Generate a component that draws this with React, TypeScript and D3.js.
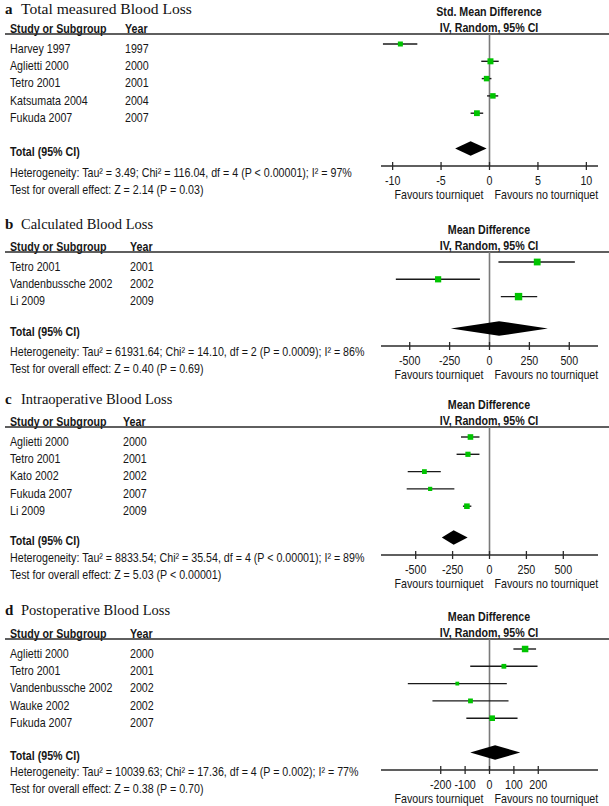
import React from "react";
import * as d3 from "d3";

// ---------- Panel a: Total measured Blood Loss (Std. Mean Difference) ----------
const aStudies = ["Harvey 1997", "Aglietti 2000", "Tetro 2001", "Katsumata 2004", "Fukuda 2007"];
const aYears = ["1997", "2000", "2001", "2004", "2007"];
const aEst = [-9.2, 0.1, -0.3, 0.35, -1.3];
const aLo = [-11.0, -0.85, -0.8, -0.25, -1.95];
const aHi = [-7.45, 0.95, 0.2, 0.9, -0.65];
const aWeight = [5, 6, 5.5, 5.5, 5.8];
const aTotal = [-3.55, -1.95, -0.3];
const aTicks = [-10, -5, 0, 5, 10];
const aHet = "Heterogeneity: Tau² = 3.49; Chi² = 116.04, df = 4 (P < 0.00001); I² = 97%";
const aTest = "Test for overall effect: Z = 2.14 (P = 0.03)";

// ---------- Panel b: Calculated Blood Loss ----------
const bStudies = ["Tetro 2001", "Vandenbussche 2002", "Li 2009"];
const bYears = ["2001", "2002", "2009"];
const bEst = [299, -322, 182];
const bLo = [56, -587, 71];
const bHi = [535, -60, 299];
const bWeight = [6.8, 6.2, 7.4];
const bTotal = [-242, 60, 366];
const bTicks = [-500, -250, 0, 250, 500];
const bHet = "Heterogeneity: Tau² = 61931.64; Chi² = 14.10, df = 2 (P = 0.0009); I² = 86%";
const bTest = "Test for overall effect: Z = 0.40 (P = 0.69)";

// ---------- Panel c: Intraoperative Blood Loss ----------
const cStudies = ["Aglietti 2000", "Tetro 2001", "Kato 2002", "Fukuda 2007", "Li 2009"];
const cYears = ["2000", "2001", "2002", "2007", "2009"];
const cEst = [-129, -146, -441, -402, -153];
const cLo = [-193, -223, -554, -561, -180];
const cHi = [-68, -68, -330, -238, -123];
const cWeight = [5.6, 5.2, 4.8, 4.2, 5.6];
const cTotal = [-323, -243, -148];
const cTicks = [-500, -250, 0, 250, 500];
const cHet = "Heterogeneity: Tau² = 8833.54; Chi² = 35.54, df = 4 (P < 0.00001); I² = 89%";
const cTest = "Test for overall effect: Z = 5.03 (P < 0.00001)";

// ---------- Panel d: Postoperative Blood Loss ----------
const dStudies = ["Aglietti 2000", "Tetro 2001", "Vandenbussche 2002", "Wauke 2002", "Fukuda 2007"];
const dYears = ["2000", "2001", "2002", "2002", "2007"];
const dEst = [146, 59, -132, -78, 11];
const dLo = [98, -79, -335, -234, -95];
const dHi = [191, 197, 71, 78, 115];
const dWeight = [6.5, 4.8, 3.8, 4.8, 5.6];
const dTotal = [-79, 23, 126];
const dTicks = [-200, -100, 0, 100, 200];
const dHet = "Heterogeneity: Tau² = 10039.63; Chi² = 17.36, df = 4 (P = 0.002); I² = 77%";
const dTest = "Test for overall effect: Z = 0.38 (P = 0.70)";

const panels = [
  { letter: "a", title: "Total measured Blood Loss", measure: "Std. Mean Difference", studies: aStudies, years: aYears, est: aEst, lo: aLo, hi: aHi, weight: aWeight, total: aTotal, ticks: aTicks, domain: [-11.2, 11.2], het: aHet, test: aTest },
  { letter: "b", title: "Calculated Blood Loss", measure: "Mean Difference", studies: bStudies, years: bYears, est: bEst, lo: bLo, hi: bHi, weight: bWeight, total: bTotal, ticks: bTicks, domain: [-680, 680], het: bHet, test: bTest },
  { letter: "c", title: "Intraoperative Blood Loss", measure: "Mean Difference", studies: cStudies, years: cYears, est: cEst, lo: cLo, hi: cHi, weight: cWeight, total: cTotal, ticks: cTicks, domain: [-735, 735], het: cHet, test: cTest },
  { letter: "d", title: "Postoperative Blood Loss", measure: "Mean Difference", studies: dStudies, years: dYears, est: dEst, lo: dLo, hi: dHi, weight: dWeight, total: dTotal, ticks: dTicks, domain: [-445, 445], het: dHet, test: dTest },
];

// layout (pixel positions) per panel
const layouts = [
  { H: 34, axisY: 166, hetY: 172.7, yearX: 125, titleY: 14, titleSize: 15.6 },
  { H: 252, axisY: 346, hetY: 352, yearX: 130, titleY: 229, titleSize: 14.5 },
  { H: 427, axisY: 555, hetY: 557.7, yearX: 123, titleY: 404, titleSize: 14.5 },
  { H: 639, axisY: 770, hetY: 772, yearX: 130, titleY: 615, titleSize: 14.5 },
];

const SANS = "'Liberation Sans', Arial, Helvetica, sans-serif";
const SERIF = "'Liberation Serif', 'Times New Roman', serif";
const SX = 0.89;
const TXT = "#161616";

function T({ x, y, anchor = "start", bold = false, size = 12, children }: any) {
  return (
    <text
      transform={`translate(${x},${y}) scale(${SX},1)`}
      textAnchor={anchor}
      fontFamily={SANS}
      fontSize={size}
      fontWeight={bold ? "bold" : "normal"}
      fill={TXT}
    >
      {children}
    </text>
  );
}

function Panel({ p, L }: any) {
  const x = d3.scaleLinear().domain(p.domain).range([381, 598]);
  const x0 = x(0);
  const rowY = d3
    .scaleLinear()
    .domain([0, 1])
    .range([L.H + 10, L.H + 10 + 17.3]);
  const diamondY = L.axisY - 17.5;
  const size = d3.scaleLinear().domain([0, 1]).range([0, 1]);
  const dh = 7.3;
  const [tl, tc, tr] = p.total;
  const diamond = d3.line()([
    [x(tl), diamondY],
    [x(tc), diamondY - dh],
    [x(tr), diamondY],
    [x(tc), diamondY + dh],
  ]) + "Z";
  return (
    <g>
      {/* title */}
      <text x={5} y={L.titleY} fontFamily={SERIF} fontSize={15} fontWeight="bold" fill="#111">
        {p.letter}
      </text>
      <text x={21} y={L.titleY} fontFamily={SERIF} fontSize={L.titleSize} fill="#111">
        {p.title}
      </text>
      {/* headers */}
      <T x={10} y={L.H - 1} bold>Study or Subgroup</T>
      <T x={L.yearX} y={L.H - 1} bold>Year</T>
      <T x={489} y={L.H - 17.7} anchor="middle" bold>{p.measure}</T>
      <T x={489} y={L.H - 1.7} anchor="middle" bold>IV, Random, 95% CI</T>
      <line x1={5} x2={609} y1={L.H} y2={L.H} stroke="#2a2a2a" strokeWidth={1.3} />
      {/* zero line */}
      <line x1={x0} x2={x0} y1={L.H} y2={L.axisY} stroke="#7a7a7a" strokeWidth={1.6} />
      {/* study rows */}
      {p.studies.map((s: string, i: number) => {
        const y = rowY(i);
        const w = size(p.weight[i]);
        return (
          <g key={s}>
            <T x={10} y={y + 8.8}>{s}</T>
            <T x={L.yearX} y={y + 8.8}>{p.years[i]}</T>
            <line x1={x(p.lo[i])} x2={x(p.hi[i])} y1={y} y2={y} stroke="#1a1a1a" strokeWidth={1.4} />
            <rect x={x(p.est[i]) - w / 2} y={y - w / 2} width={w} height={w} fill="#00c400" />
          </g>
        );
      })}
      {/* total */}
      <T x={10} y={diamondY + 7.8} bold>Total (95% CI)</T>
      <path d={diamond} fill="#000" />
      <T x={10} y={L.hetY + 4.3}>{p.het}</T>
      <T x={10} y={L.hetY + 20.8}>{p.test}</T>
      {/* axis */}
      <line x1={381} x2={598} y1={L.axisY} y2={L.axisY} stroke="#2a2a2a" strokeWidth={1.3} />
      {p.ticks.map((t: number) => (
        <g key={t}>
          <line x1={x(t)} x2={x(t)} y1={L.axisY - 4} y2={L.axisY + 4} stroke="#2a2a2a" strokeWidth={1.3} />
          <T x={x(t)} y={L.axisY + 19.3} anchor="middle">{String(t)}</T>
        </g>
      ))}
      <T x={x0 - 6} y={L.axisY + 33.3} anchor="end">Favours tourniquet</T>
      <T x={x0 + 5} y={L.axisY + 33.3}>Favours no tourniquet</T>
    </g>
  );
}

export default function App() {
  return (
    <svg
      width={609}
      height={806}
      viewBox="0 0 609 806"
      style={{ position: "absolute", left: 0, top: 0, background: "#fff" }}
    >
      <rect width={609} height={806} fill="#fff" />
      {panels.map((p, i) => (
        <Panel key={p.letter} p={p} L={layouts[i]} />
      ))}
    </svg>
  );
}
